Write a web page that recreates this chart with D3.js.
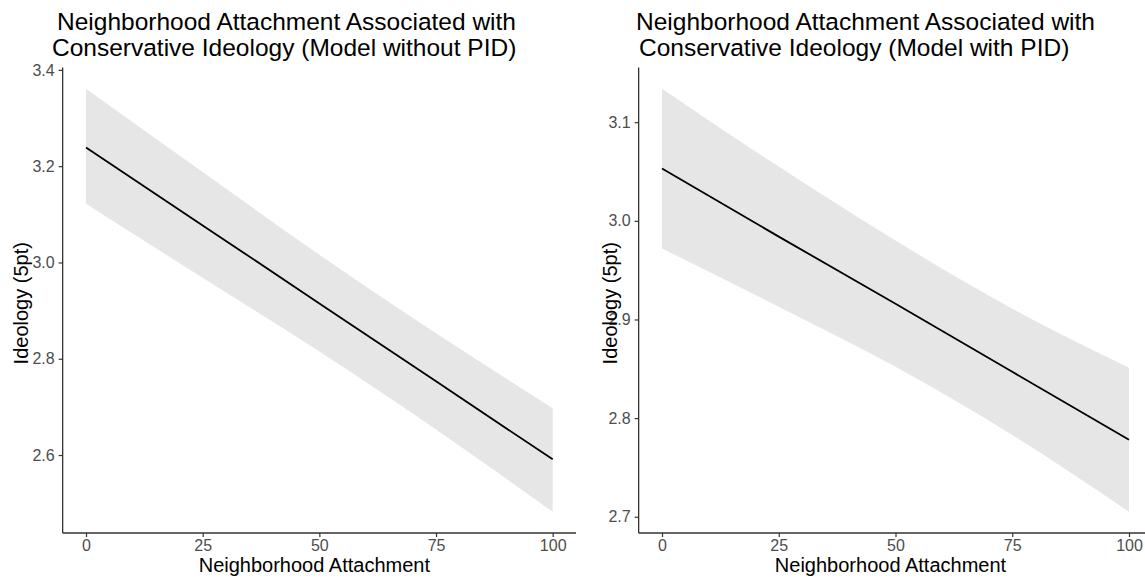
<!DOCTYPE html>
<html>
<head>
<meta charset="utf-8">
<script src="https://cdn.jsdelivr.net/npm/d3@7"></script>
<style>
  body { margin: 0; background: #fff; }
  svg { display: block; font-family: "Liberation Sans", Arial, sans-serif; }
  .tick text { fill: #4d4d4d; font-size: 16px; }
</style>
</head>
<body>
<svg id="chart" width="1145" height="578"></svg>
<script>
// values
const attach = [0, 25, 50, 75, 100];

const fitNoPid   = [3.239, 3.077, 2.915, 2.753, 2.591];
const upperNoPid = [3.361, 3.188, 3.016, 2.853, 2.697];
const lowerNoPid = [3.122, 2.968, 2.815, 2.653, 2.482];

const fitPid   = [3.053, 2.984, 2.916, 2.847, 2.778];
const upperPid = [3.134, 3.055, 2.980, 2.911, 2.851];
const lowerPid = [2.972, 2.913, 2.852, 2.783, 2.705];

const xTicks = [0, 25, 50, 75, 100];
const yTicksNoPid = [2.6, 2.8, 3.0, 3.2, 3.4];
const yTicksPid = [2.7, 2.8, 2.9, 3.0, 3.1];

const titleNoPid = ["Neighborhood Attachment Associated with", "Conservative Ideology (Model without PID)"];
const titlePid   = ["Neighborhood Attachment Associated with", "Conservative Ideology (Model with PID)"];

const svg = d3.select('#chart');
const TOP = 67.5, BOTTOM = 533;

function drawPanel(p){
  const g = svg.append('g');
  const rows = attach.map((a,i)=>({a, fit:p.fit[i], hi:p.upper[i], lo:p.lower[i]}));

  // ggplot style 5% expansion
  const x = d3.scaleLinear().domain([0,100]).range([p.x0, p.x100]);
  const xd = [-5, 105];
  const ymin = d3.min(p.lower), ymax = d3.max(p.upper), pad = (ymax-ymin)*0.05;
  const y = d3.scaleLinear().domain([ymin-pad, ymax+pad]).range([BOTTOM, TOP]);

  g.append('path')
    .datum(rows)
    .attr('fill', '#e6e6e6')
    .attr('d', d3.area().curve(d3.curveMonotoneX)
      .x(d=>x(d.a)).y0(d=>y(d.lo)).y1(d=>y(d.hi)));

  g.append('path')
    .datum(rows)
    .attr('fill', 'none')
    .attr('stroke', '#000')
    .attr('stroke-width', 1.8)
    .attr('d', d3.line().x(d=>x(d.a)).y(d=>y(d.fit)));

  const xAxis = g.append('g')
    .attr('transform', `translate(0,${BOTTOM})`)
    .call(d3.axisBottom(x).tickValues(xTicks).tickSize(4).tickPadding(3).tickFormat(d3.format('d')));
  xAxis.select('.domain').attr('d', `M${x(xd[0])},0H${x(xd[1])}`);

  const yAxis = g.append('g')
    .attr('transform', `translate(${x(xd[0])},0)`)
    .call(d3.axisLeft(y).tickValues(p.yTicks).tickSize(4).tickPadding(4).tickFormat(d3.format('.1f')));
  yAxis.select('.domain').attr('d', `M0,${TOP}V${BOTTOM}`);

  [xAxis, yAxis].forEach(a=>{
    a.select('.domain').attr('stroke', '#333').attr('stroke-width', 1.3);
    a.selectAll('.tick line').attr('stroke', '#333').attr('stroke-width', 1.2);
  });

  g.append('text')
    .attr('x', (x(xd[0]) + x(xd[1])) / 2 - 5)
    .attr('y', 572)
    .attr('text-anchor', 'middle')
    .attr('font-size', 20)
    .text('Neighborhood Attachment');

  g.append('text')
    .attr('transform', `translate(${p.ylabX},${(TOP+BOTTOM)/2 + 3}) rotate(-90)`)
    .attr('text-anchor', 'middle')
    .attr('font-size', 20)
    .text('Ideology (5pt)');

  p.title.forEach((t,i)=>{
    g.append('text')
      .attr('x', p.titleX[i])
      .attr('y', 30 + i*26)
      .attr('font-size', 24.5)
      .text(t);
  });
}

drawPanel({fit:fitNoPid, upper:upperNoPid, lower:lowerNoPid, yTicks:yTicksNoPid,
  x0:86, x100:552.7, ylabX:28, title:titleNoPid, titleX:[57, 52]});
drawPanel({fit:fitPid, upper:upperPid, lower:lowerPid, yTicks:yTicksPid,
  x0:662, x100:1129, ylabX:617, title:titlePid, titleX:[636, 639]});
</script>
</body>
</html>
